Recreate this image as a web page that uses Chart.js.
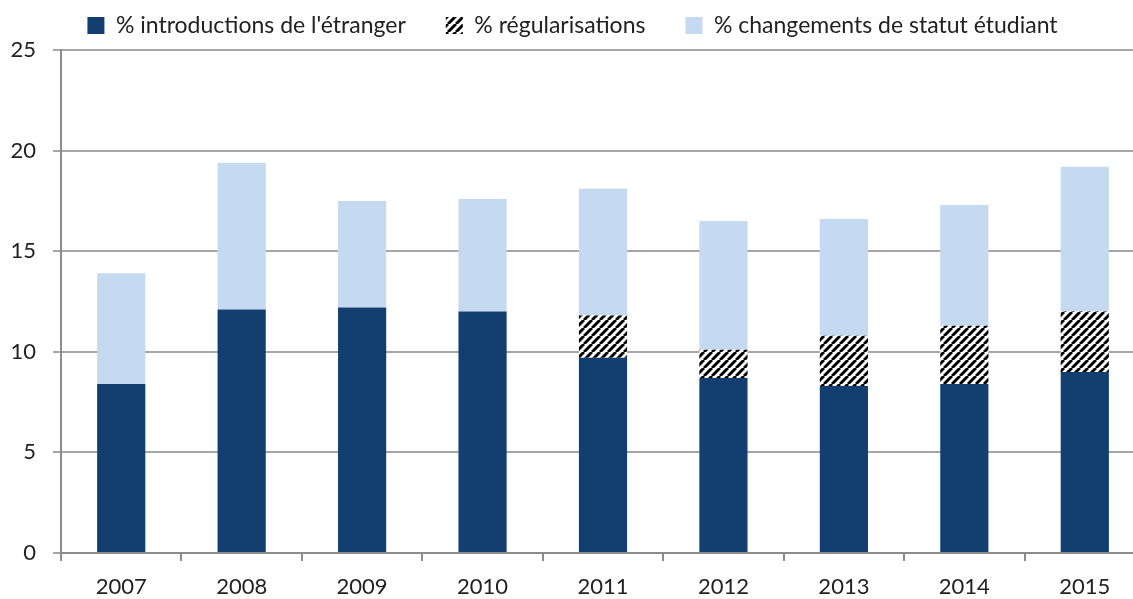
<!DOCTYPE html>
<html>
<head>
<meta charset="utf-8">
<script src="https://cdn.jsdelivr.net/npm/chart.js@4"></script>
<style>
    html, body { margin: 0; padding: 0; background: #fff; overflow: hidden; }
    #wrap { width: 1145px; height: 599px; }
</style>
</head>
<body>
<div id="wrap"><canvas id="chart"></canvas></div>
<script>
// Values
const years = ['2007', '2008', '2009', '2010', '2011', '2012', '2013', '2014', '2015'];
const introductions = [8.4, 12.1, 12.2, 12.0, 9.7, 8.7, 8.3, 8.4, 9.0];
const regularisations = [0, 0, 0, 0, 2.1, 1.4, 2.5, 2.9, 3.0];
const changementsStatut = [5.5, 7.3, 5.3, 5.6, 6.3, 6.4, 5.8, 6.0, 7.2];
const yTicks = [0, 5, 10, 15, 20, 25];

const FONT = 'Lato, "Open Sans", sans-serif';

// diagonal black/white hatch for the regularisations series
function makeHatch() {
    const size = 8;
    const c = document.createElement('canvas');
    c.width = size;
    c.height = size;
    const g = c.getContext('2d');
    g.fillStyle = '#fff';
    g.fillRect(0, 0, size, size);
    g.strokeStyle = '#000';
    g.lineWidth = 3;
    g.beginPath();
    for (let k = -1; k <= 1; k++) {
        g.moveTo(k * size, size);
        g.lineTo(k * size + size, 0);
    }
    g.stroke();
    return g.createPattern(c, 'repeat');
}

const hatch = makeHatch();

// fixed legend band of 50px; the items are drawn lifted (no clip) so they sit around y=27
const legendBand = {
    id: 'legendBand',
    beforeInit(chart) {
        const legend = chart.legend;
        const fit = legend.fit;
        legend.fit = function () {
            fit.bind(legend)();
            this.height = 50;
        };
        legend.draw = function () {
            const top = this.top;
            this.top = top - 26;
            this._draw();
            this.top = top;
        };
    }
};

new Chart(document.getElementById('chart'), {
    type: 'bar',
    data: {
        labels: years,
        datasets: [
            {
                label: "% introductions de l'étranger",
                data: introductions,
                backgroundColor: '#133f70'
            },
            {
                label: '% régularisations',
                data: regularisations,
                backgroundColor: hatch
            },
            {
                label: '% changements de statut étudiant',
                data: changementsStatut,
                backgroundColor: '#c5d9f0'
            }
        ]
    },
    options: {
        responsive: true,
        maintainAspectRatio: false,
        animation: false,
        layout: { padding: 0 },
        datasets: {
            bar: { barPercentage: 0.4, categoryPercentage: 1.0 }
        },
        plugins: {
            tooltip: { enabled: false },
            legend: {
                position: 'top',
                labels: {
                    boxWidth: 17,
                    boxHeight: 17,
                    padding: 40,
                    color: '#222',
                    font: { family: FONT, size: 23 }
                }
            }
        },
        scales: {
            x: {
                stacked: true,
                grid: {
                    offset: true,
                    drawOnChartArea: false,
                    tickLength: 8,
                    color: '#8c8c8c',
                    lineWidth: 2
                },
                border: { color: '#8c8c8c', width: 2 },
                ticks: {
                    padding: 13,
                    color: '#222',
                    font: { family: FONT, size: 22 }
                },
                afterFit(scale) { scale.height = 46; }
            },
            y: {
                stacked: true,
                min: 0,
                max: 25,
                afterBuildTicks(scale) {
                    scale.ticks = yTicks.map(v => ({ value: v }));
                },
                grid: {
                    tickLength: 8,
                    color: '#a6a6a6',
                    lineWidth: 2
                },
                border: { color: '#8c8c8c', width: 2 },
                ticks: {
                    padding: 17,
                    color: '#222',
                    font: { family: FONT, size: 22 }
                },
                afterFit(scale) { scale.width = 61; }
            }
        }
    },
    plugins: [legendBand]
});
</script>
</body>
</html>
